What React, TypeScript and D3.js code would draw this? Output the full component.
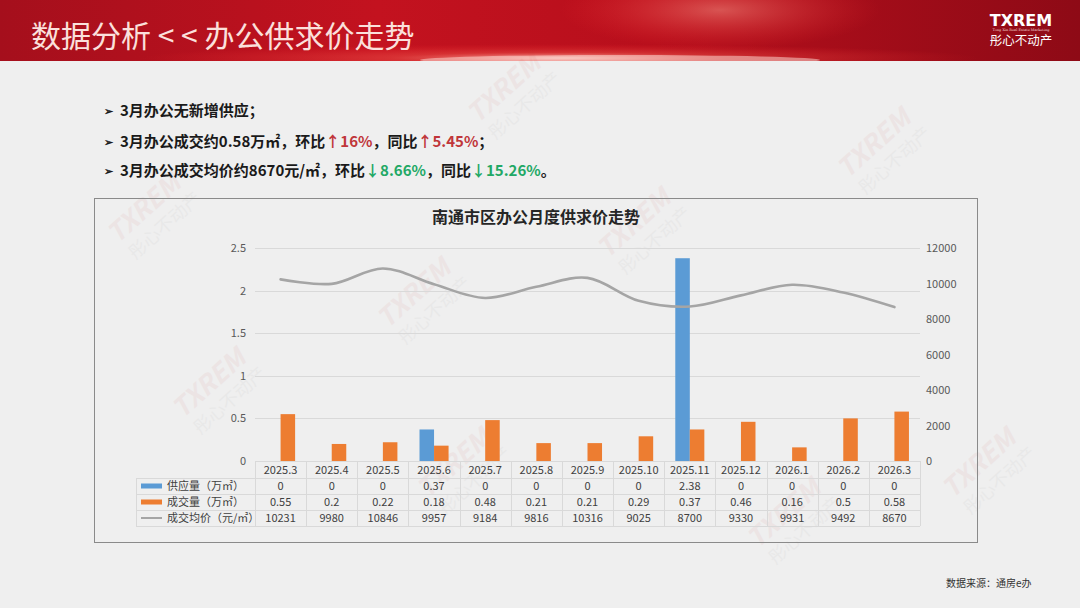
import React from "react";
import * as d3 from "d3";

// chart data
const months = ["2025.3", "2025.4", "2025.5", "2025.6", "2025.7", "2025.8", "2025.9", "2025.10", "2025.11", "2025.12", "2026.1", "2026.2", "2026.3"];
const supply = [0, 0, 0, 0.37, 0, 0, 0, 0, 2.38, 0, 0, 0, 0];
const deals = [0.55, 0.2, 0.22, 0.18, 0.48, 0.21, 0.21, 0.29, 0.37, 0.46, 0.16, 0.5, 0.58];
const prices = [10231, 9980, 10846, 9957, 9184, 9816, 10316, 9025, 8700, 9330, 9931, 9492, 8670];
const leftTicks = [0, 0.5, 1, 1.5, 2, 2.5];
const rightTicks = [0, 2000, 4000, 6000, 8000, 10000, 12000];
const seriesNames = ["供应量（万㎡）", "成交量（万㎡）", "成交均价（元/㎡）"];

const W = 1080;
const H = 608;
const FONT = "'Noto Sans CJK SC', 'Noto Sans', sans-serif";
const BLUE = "#5b9bd5";
const ORANGE = "#ed7d31";
const GRAY = "#a5a5a5";
const RED = "#c0363a";
const GREEN = "#22a865";

const watermarks = [
  [150, 215], [640, 230], [510, 95], [880, 150], [215, 390], [460, 470], [790, 520], [985, 470], [420, 300],
];

const App = () => {
  const x = d3.scaleBand().domain(months).range([255, 920]);
  const yL = d3.scaleLinear().domain([0, 2.5]).range([461, 248]);
  const yR = d3.scaleLinear().domain([0, 12000]).range([461, 248]);
  const bw = x.bandwidth() * 0.284;
  const cx = (m: string) => (x(m) as number) + x.bandwidth() / 2;

  const line = d3
    .line<number>()
    .x((_, i) => cx(months[i]))
    .y((d) => yR(d))
    .curve(d3.curveCatmullRom.alpha(0.5));

  const rowY = [470, 486, 502, 518];
  const rowLines = [478, 494, 510, 526];

  return (
    <svg
      width={W}
      height={H}
      style={{ position: "absolute", left: 0, top: 0, display: "block" }}
      fontFamily={FONT}
    >
      <defs>
        <linearGradient id="hdr" x1="0" y1="0" x2="1" y2="0">
          <stop offset="0" stopColor="#a50f1c" />
          <stop offset="0.35" stopColor="#c3121f" />
          <stop offset="0.6" stopColor="#b80f1c" />
          <stop offset="1" stopColor="#8e0a16" />
        </linearGradient>
        <radialGradient id="glow" cx="0.5" cy="0.5" r="0.5">
          <stop offset="0" stopColor="#ffd0c8" stopOpacity="0.85" />
          <stop offset="0.4" stopColor="#ff6a5a" stopOpacity="0.35" />
          <stop offset="1" stopColor="#ff3030" stopOpacity="0" />
        </radialGradient>
        <radialGradient id="glow2" cx="0.5" cy="0.5" r="0.5">
          <stop offset="0" stopColor="#ff9a8a" stopOpacity="0.5" />
          <stop offset="1" stopColor="#ff3030" stopOpacity="0" />
        </radialGradient>
        <clipPath id="hclip">
          <rect x={0} y={0} width={W} height={61} />
        </clipPath>
      </defs>

      {/* slide background */}
      <rect x={0} y={0} width={W} height={H} fill="#efefef" />

      {/* header band */}
      <g clipPath="url(#hclip)">
        <rect x={0} y={0} width={W} height={61} fill="url(#hdr)" />
        <ellipse cx={720} cy={10} rx={160} ry={40} fill="url(#glow2)" />
        <ellipse cx={560} cy={58} rx={420} ry={14} fill="url(#glow)" />
        <ellipse cx={620} cy={60} rx={200} ry={5} fill="#ffe4dc" opacity={0.5} />
      </g>
      <text x={31} y={47} fontSize={30} fill="#fbe0dc" fontWeight={400}>
        数据分析 &lt; &lt; 办公供求价走势
      </text>
      <text x={1021} y={26} textAnchor="middle" fontSize={16} fontWeight={700} fill="#fff" fontFamily="'DejaVu Sans', sans-serif">
        TXREM
      </text>
      <text x={1021} y={31} textAnchor="middle" fontSize={3.5} fill="#f3d6d6" fontFamily="'DejaVu Serif', serif">
        Tong Xin Real Estate Marketing
      </text>
      <text x={1021} y={45} textAnchor="middle" fontSize={12.5} fill="#fff">
        彤心不动产
      </text>

      {/* watermarks */}
      {watermarks.map(([wx, wy], i) => (
        <g key={i} transform={`translate(${wx},${wy}) rotate(-42)`} opacity={0.06}>
          <text x={0} y={0} textAnchor="middle" fontSize={26} fontWeight={700} fontStyle="italic" fill="#c04040">
            TXREM
          </text>
          <text x={4} y={24} textAnchor="middle" fontSize={18} fill="#888">
            彤心不动产
          </text>
        </g>
      ))}

      {/* bullets */}
      <g fontSize={15} fontWeight={700} fill="#1a1a1a">
        <text x={104} y={115} fontSize={11}>➢</text>
        <text x={120} y={116}>3月办公无新增供应；</text>
        <text x={104} y={146} fontSize={11}>➢</text>
        <text x={120} y={147}>
          3月办公成交约0.58万㎡，环比<tspan fill={RED}>↑16%</tspan>，同比<tspan fill={RED}>↑5.45%</tspan>；
        </text>
        <text x={104} y={175} fontSize={11}>➢</text>
        <text x={120} y={176}>
          3月办公成交均价约8670元/㎡，环比<tspan fill={GREEN}>↓8.66%</tspan>，同比<tspan fill={GREEN}>↓15.26%</tspan>。
        </text>
      </g>

      {/* chart frame */}
      <rect x={94.5} y={198.5} width={883} height={344} fill="none" stroke="#8a8a8a" strokeWidth={1} />
      <text x={536} y={223} textAnchor="middle" fontSize={16} fontWeight={700} fill="#262626">
        南通市区办公月度供求价走势
      </text>

      {/* gridlines */}
      {leftTicks.map((t) => (
        <line key={t} x1={255} x2={920} y1={Math.round(yL(t)) + 0.5} y2={Math.round(yL(t)) + 0.5} stroke="#d9d9d9" />
      ))}
      {leftTicks.map((t) => (
        <text key={t} x={246} y={yL(t) + 4} textAnchor="end" fontSize={11} fill="#595959">
          {t}
        </text>
      ))}
      {rightTicks.map((t) => (
        <text key={t} x={926} y={yR(t) + 4} fontSize={11} fill="#595959">
          {t}
        </text>
      ))}

      {/* bars */}
      {months.map((m, i) => (
        <g key={m}>
          <rect x={cx(m) - bw} y={yL(supply[i])} width={bw} height={461 - yL(supply[i])} fill={BLUE} />
          <rect x={cx(m)} y={yL(deals[i])} width={bw} height={461 - yL(deals[i])} fill={ORANGE} />
        </g>
      ))}

      {/* price line */}
      <path d={line(prices) || ""} fill="none" stroke={GRAY} strokeWidth={2.6} strokeLinecap="round" />

      {/* data table */}
      {rowLines.map((ry) => (
        <line key={ry} x1={136} x2={920} y1={ry + 0.5} y2={ry + 0.5} stroke="#d9d9d9" />
      ))}
      {[...months.map((m) => x(m) as number), 920].map((vx, i) => (
        <line key={i} x1={Math.round(vx) + 0.5} x2={Math.round(vx) + 0.5} y1={461} y2={526} stroke="#d9d9d9" />
      ))}
      <line x1={136.5} x2={136.5} y1={478} y2={526} stroke="#d9d9d9" />
      {months.map((m, i) => (
        <g key={m} fontSize={11} fill="#404040" textAnchor="middle">
          <text x={cx(m)} y={rowY[0] + 4}>{m}</text>
          <text x={cx(m)} y={rowY[1] + 4}>{supply[i]}</text>
          <text x={cx(m)} y={rowY[2] + 4}>{deals[i]}</text>
          <text x={cx(m)} y={rowY[3] + 4}>{prices[i]}</text>
        </g>
      ))}
      <rect x={141} y={rowY[1] - 2.5} width={21} height={5} fill={BLUE} />
      <rect x={141} y={rowY[2] - 2.5} width={21} height={5} fill={ORANGE} />
      <line x1={141} x2={162} y1={rowY[3]} y2={rowY[3]} stroke={GRAY} strokeWidth={2} />
      {seriesNames.map((n, i) => (
        <text key={n} x={167} y={rowY[i + 1] + 4} fontSize={11} fill="#404040">
          {n}
        </text>
      ))}

      {/* source */}
      <text x={946} y={587} fontSize={10} fill="#333">
        数据来源：通房e办
      </text>
    </svg>
  );
};

export default App;
